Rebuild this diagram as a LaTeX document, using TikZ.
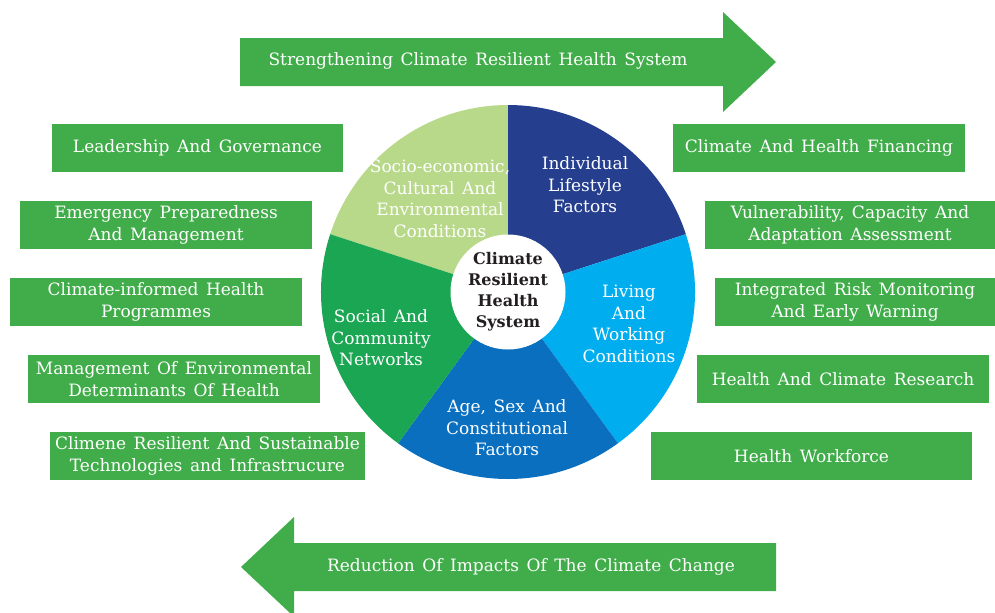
\documentclass[tikz,border=0pt]{standalone}
\usepackage{fontspec}
\setmainfont{DejaVu Serif}[WordSpace=1.4]
\usepackage{tikz}
\usetikzlibrary{calc}

\definecolor{boxgreen}{RGB}{65,173,74}
\definecolor{segsocio}{RGB}{184,217,138}
\definecolor{segindiv}{RGB}{37,62,142}
\definecolor{segliving}{RGB}{0,174,239}
\definecolor{segage}{RGB}{10,111,191}
\definecolor{segsocial}{RGB}{26,166,82}
\definecolor{coretext}{RGB}{35,31,32}
\newcommand{\boxfont}{\fontsize{17bp}{21.5bp}\selectfont}
\newcommand{\corefont}{\fontsize{16bp}{21bp}\selectfont\bfseries}

\begin{document}
\begin{tikzpicture}[
	bar/.style={fill=boxgreen, text=white, minimum height=48bp, inner sep=0pt, align=center, font=\boxfont},
	seglabel/.style={text=white, align=center, font=\boxfont, inner sep=0pt}]
	\useasboundingbox (0bp,0bp) rectangle (995bp,-613bp);

	% big arrows
	\fill[boxgreen] (240bp,-38bp) -- (723bp,-38bp) -- (723bp,-12bp) -- (776bp,-62bp)
		-- (723bp,-112bp) -- (723bp,-86bp) -- (240bp,-86bp) -- cycle;
	\fill[boxgreen] (776bp,-543bp) -- (294bp,-543bp) -- (294bp,-517bp) -- (241bp,-567bp)
		-- (290bp,-613bp) -- (294bp,-613bp) -- (294bp,-591bp) -- (776bp,-591bp) -- cycle;
	\node[seglabel] (strengthen) at (478bp,-61bp)  {Strengthening Climate Resilient Health System};
	\node[seglabel] (reduction)  at (531bp,-567bp) {Reduction Of Impacts Of The Climate Change};

	% wheel
	\coordinate (hub) at (508bp,-292bp);
	\fill[segsocio]  (hub) -- ++(90:187bp)   arc[start angle=90,   end angle=162,  radius=187bp] -- cycle;
	\fill[segindiv]  (hub) -- ++(18:187bp)   arc[start angle=18,   end angle=90,   radius=187bp] -- cycle;
	\fill[segliving] (hub) -- ++(-54:187bp)  arc[start angle=-54,  end angle=18,   radius=187bp] -- cycle;
	\fill[segage]    (hub) -- ++(-126:187bp) arc[start angle=-126, end angle=-54,  radius=187bp] -- cycle;
	\fill[segsocial] (hub) -- ++(162:187bp)  arc[start angle=162,  end angle=234,  radius=187bp] -- cycle;

	\node[circle, fill=white, minimum size=115bp, inner sep=0pt, align=center,
		text=coretext, font=\corefont] (core) at (508bp,-292bp)
		{Climate\\Resilient\\Health\\System};

	\node[seglabel] (socio)  at (440bp,-199bp) {Socio-economic,\\Cultural And\\Environmental\\Conditions};
	\node[seglabel] (indiv)  at (585bp,-185bp) {Individual\\Lifestyle\\Factors};
	\node[seglabel] (living) at (629bp,-324bp) {Living\\And\\Working\\Conditions};
	\node[seglabel] (agesex) at (507bp,-428bp) {Age, Sex And\\Constitutional\\Factors};
	\node[seglabel] (social) at (381bp,-338bp) {Social And\\Community\\Networks};

	% left column
	\node[bar, minimum width=291bp] (leader)  at (197.5bp,-148bp) {Leadership And Governance};
	\node[bar, minimum width=292bp] (emerg)   at (166bp,-225bp)   {Emergency Preparedness\\And Management};
	\node[bar, minimum width=292bp] (progr)   at (156bp,-302bp)   {Climate-informed Health\\Programmes};
	\node[bar, minimum width=292bp] (envdet)  at (174bp,-379bp)   {Management Of Environmental\\Determinants Of Health};
	\node[bar, minimum width=315bp] (techn)   at (207.5bp,-456bp) {Climene Resilient And Sustainable\\Technologies and Infrastrucure};

	% right column
	\node[bar, minimum width=292bp] (financ)  at (819bp,-148bp)   {Climate And Health Financing};
	\node[bar, minimum width=290bp] (vulner)  at (850bp,-225bp)   {Vulnerability, Capacity And\\Adaptation Assessment};
	\node[bar, minimum width=280bp] (riskmon) at (855bp,-302bp)   {Integrated Risk Monitoring\\And Early Warning};
	\node[bar, minimum width=292bp] (research) at (843bp,-379bp)  {Health And Climate Research};
	\node[bar, minimum width=321bp] (workf)   at (811.5bp,-456bp) {Health Workforce};
\end{tikzpicture}
\end{document}
